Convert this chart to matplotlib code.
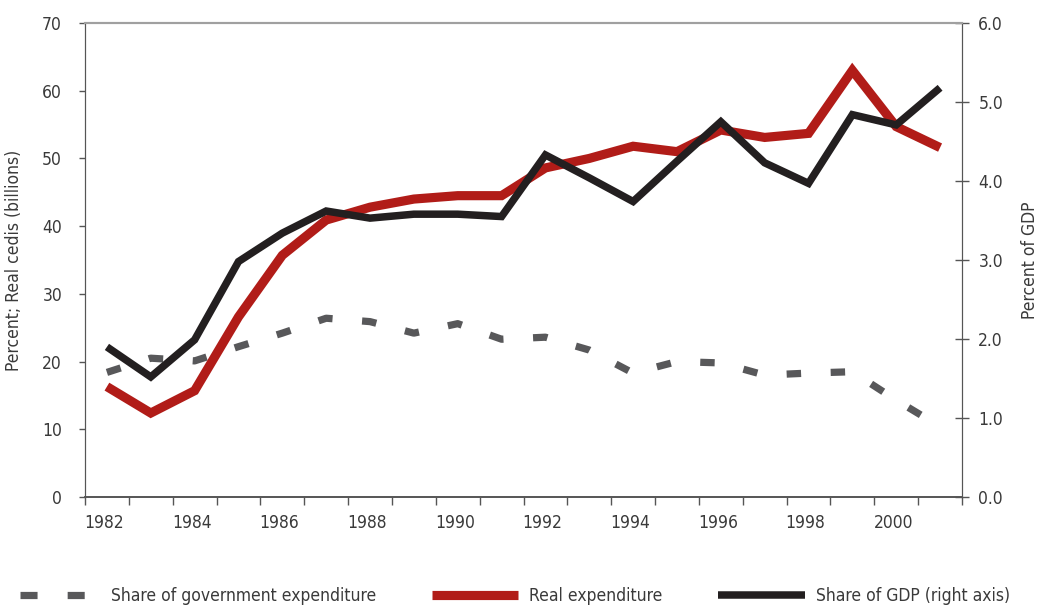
import matplotlib
matplotlib.use("Agg")
import matplotlib.pyplot as plt
from matplotlib import font_manager
from matplotlib.lines import Line2D
from matplotlib.transforms import ScaledTranslation
import numpy as np

names = {f.name for f in font_manager.fontManager.ttflist}
if 'Liberation Sans Narrow' in names:
    plt.rcParams['font.family'] = ['Liberation Sans Narrow', 'DejaVu Sans']
else:
    plt.rcParams['font.family'] = ['DejaVu Sans']
    plt.rcParams['font.stretch'] = 'condensed'

years = list(range(1982, 2002))
share_gov_exp = [18.4, 20.5, 20.1, 22.2, 24.2, 26.4, 25.9, 24.2, 25.6, 23.3,
                 23.6, 21.7, 18.3, 20.0, 19.8, 18.0, 18.3, 18.5, 14.3, 10.4]
real_exp = [16.3, 12.4, 15.7, 26.6, 35.7, 40.9, 42.8, 44.0, 44.5, 44.5,
            48.6, 50.0, 51.8, 51.0, 54.2, 53.1, 53.7, 63.0, 54.7, 51.6]
share_gdp = [1.90, 1.52, 1.99, 2.98, 3.34, 3.62, 3.53, 3.58, 3.58, 3.55,
             4.33, 4.04, 3.74, 4.25, 4.75, 4.23, 3.97, 4.84, 4.71, 5.18]
labels = ['Share of government expenditure', 'Real expenditure',
          'Share of GDP (right axis)']

txt = '#3a3a3a'
gray = '#58585a'
red = '#b11c18'
black = '#231f20'
fs = 12.5

fig = plt.figure(figsize=(10.38, 6.06), dpi=100)
ax = fig.add_axes([85/1038, 1-497/606, (962-85)/1038, (497-23)/606])
ax2 = ax.twinx()

x = np.arange(len(years)) + 0.5

l1, = ax.plot(x, share_gov_exp, color=gray, lw=5.2, dashes=(2.0, 4.1),
              dash_capstyle='butt', solid_joinstyle='miter')
l2, = ax.plot(x, real_exp, color=red, lw=6.6, solid_joinstyle='miter',
              solid_capstyle='butt')
l3, = ax2.plot(x, share_gdp, color=black, lw=5.4, solid_joinstyle='miter',
               solid_capstyle='butt')

ax.set_xlim(0, 20)
ax.set_ylim(0, 70)
ax2.set_ylim(0, 6)

ax.set_yticks(np.arange(0, 71, 10))
ax2.set_yticks(np.arange(0, 6.01, 1.0))
ax2.set_yticklabels(['%.1f' % v for v in np.arange(0, 6.01, 1.0)])

ax.set_xticks(x[::2])
ax.set_xticklabels([str(y) for y in years[::2]])
ax.set_xticks(np.arange(0, 21), minor=True)
ax.tick_params(axis='x', which='major', length=0, pad=12, labelsize=fs, colors=txt)
ax.tick_params(axis='x', which='minor', length=6, width=1, color='#555555', direction='out')
ax.tick_params(axis='y', length=4.5, width=1, color='#555555', labelsize=fs,
               labelcolor=txt, pad=12)
ax2.tick_params(axis='y', length=9.5, width=1, color='#555555', labelsize=fs,
                labelcolor=txt, direction='inout', pad=7)
shift = ScaledTranslation(-3/100, 0, fig.dpi_scale_trans)
for lab in ax.get_xticklabels():
    lab.set_transform(lab.get_transform() + shift)

for a in (ax, ax2):
    a.spines['top'].set_color('#a0a0a0')
    a.spines['top'].set_linewidth(1.5)
    a.spines['left'].set_color('#555555')
    a.spines['right'].set_color('#555555')
    a.spines['bottom'].set_color('#555555')
    a.spines['bottom'].set_linewidth(1.2)

ax.set_ylabel('Percent; Real cedis (billions)', fontsize=fs, color=txt)
ax.yaxis.set_label_coords((23 - 85)/877, 0.5)
ax2.set_ylabel('Percent of GDP', fontsize=fs, color=txt)
ax2.yaxis.set_label_coords((1021 - 85)/877, 0.5)

# legend proxy for the dashed series: two short dashes like the original key
gray_key = Line2D([], [], color=gray, lw=5.2, linestyle=(5.56, (2.36, 4.17)),
                  dash_capstyle='butt')
fig.legend([gray_key, l2, l3], labels,
           loc='center', bbox_to_anchor=(0.4928, 1 - 596/606), ncol=3,
           frameon=False, fontsize=fs, handlelength=5.0, handletextpad=0.63,
           columnspacing=3.2, labelcolor=txt)

fig.savefig('out.png', dpi=100)
